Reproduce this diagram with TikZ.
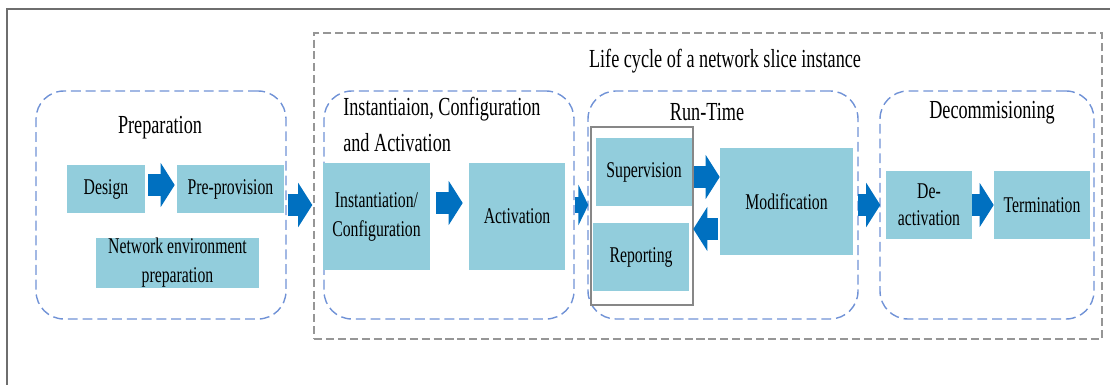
\documentclass[tikz,border=0pt]{standalone}
\usepackage{fontspec}
\setmainfont{Liberation Serif}[FakeStretch=0.7]
\usepackage{tikz}
\usetikzlibrary{arrows.meta, calc, positioning}

\newdimen\pxu \pxu=0.025cm
\definecolor{boxfill}{RGB}{146,205,220}
\definecolor{arrowblue}{RGB}{0,112,192}
\definecolor{dashblue}{RGB}{112,146,214}
\definecolor{lifegray}{RGB}{150,150,150}
\definecolor{framegray}{RGB}{110,110,110}

\begin{document}
\begin{tikzpicture}[x=0.025cm, y=-0.025cm,
  box/.style = {fill=boxfill, inner sep=0pt, align=center, font=\fontsize{16}{20.6}\selectfont},
  group/.style = {draw=dashblue, line width=1pt, dash pattern=on 7pt off 3.5pt, rounded corners=28\pxu, minimum width=250\pxu, minimum height=228\pxu},
  title/.style = {font=\fontsize{18.5}{25}\selectfont},
  arr/.style = {arrowblue, line width=16pt, -{Triangle[length=10pt, width=31pt]}},
  smallarr/.style = {arrowblue, line width=12pt, -{Triangle[length=7pt, width=28.5pt]}}]
\useasboundingbox (0,0) rectangle (1110,385);
\draw[framegray, line width=1.1pt] (7,385) -- (7,9) -- (1110,9);

% life cycle frame
\node[draw=lifegray, line width=0.9pt, dash pattern=on 5.7pt off 2.8pt, minimum width=788\pxu, minimum height=306\pxu] (life) at (708,186) {};
\node[title] (lifetitle) at (725,61) {Life cycle of a network slice instance};

% groups
\node[group] (prep) at (161,205) {};
\node[group] (inst) at (449,205) {};
\node[group, minimum width=270\pxu] (run) at (723,205) {};
\node[group, minimum width=214\pxu] (decom) at (987,205) {};

\node[title] (preptitle) at (160,128) {Preparation};
\node[title, anchor=west, align=left, inner sep=0pt] (insttitle) at (343,124.5) {Instantiaion, Configuration\\and Activation};
\node[title] (runtitle) at (707,112) {Run-Time};
\node[title] (decomtitle) at (992,113) {Decommisioning};

% boxes
\node[box, minimum width=78\pxu, minimum height=48\pxu] (design) at (106,189) {Design};
\node[box, minimum width=107\pxu, minimum height=48\pxu] (pre) at (230.5,189) {Pre-provision};
\node[box, minimum width=163\pxu, minimum height=48\pxu] (netenv) at (177.5,263) {Network environment\\preparation};
\node[box, minimum width=107\pxu, minimum height=107\pxu] (instconf) at (376.5,216.5) {Instantiation/\\Configuration};
\node[box, minimum width=96\pxu, minimum height=107\pxu] (activ) at (517,216.5) {Activation};
\draw[lifegray!90!black, line width=0.8pt] (591,127) rectangle (693,305);
\node[box, minimum width=96\pxu, minimum height=68\pxu] (sup) at (644,172) {Supervision};
\node[box, minimum width=96\pxu, minimum height=68\pxu] (rep) at (641,257) {Reporting};
\node[box, minimum width=133\pxu, minimum height=107\pxu] (mod) at (786.5,201.5) {Modification};
\node[box, minimum width=86\pxu, minimum height=68\pxu, font=\fontsize{16}{19.2}\selectfont] (deact) at (929,205) {De-\\activation};
\node[box, minimum width=96\pxu, minimum height=68\pxu] (term) at (1042,205) {Termination};

% block arrows
\draw[arr, shorten <=3\pxu, shorten >=2\pxu] ([yshift=4\pxu]design.east) -- ([yshift=4\pxu]pre.west);
\draw[arr, shorten <=1\pxu, shorten >=11\pxu] (prep.east) -- (inst.west);
\draw[arr, shorten <=6\pxu, shorten >=6\pxu] ([yshift=13.5\pxu]instconf.east) -- ([yshift=13.5\pxu]activ.west);
\draw[smallarr, shorten >=-1\pxu] (inst.east) -- (run.west);
\draw[arr, shorten <=2\pxu] ([yshift=-5\pxu]sup.east) -- ([yshift=-5\pxu]sup.east -| mod.west);
\draw[arr, shorten <=2\pxu, shorten >=4\pxu] ([yshift=-27.5\pxu]mod.west) -- ([yshift=-27.5\pxu]mod.west -| rep.east);
\draw[arr, shorten <=-1\pxu, shorten >=-1\pxu] (run.east) -- (decom.west);
\draw[arr] (deact.east) -- (term.west);
\end{tikzpicture}
\end{document}
